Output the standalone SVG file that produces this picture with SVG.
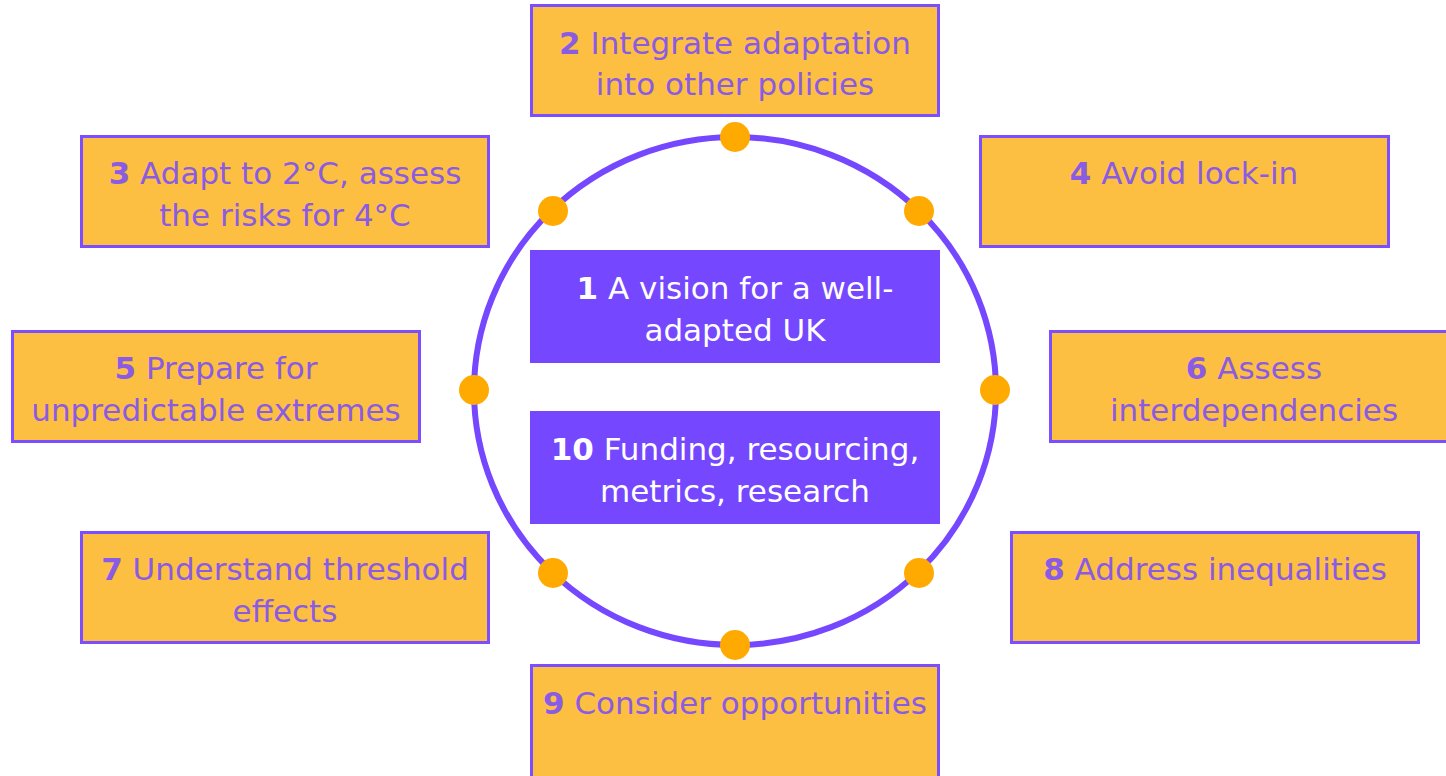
<svg xmlns="http://www.w3.org/2000/svg" width="1446" height="776" viewBox="0 0 1446 776">
  <style>
    .box { fill: #FDBF41; stroke: #7B4FFF; stroke-width: 3; }
    .core { fill: #7547FF; }
    .lbl { font-family: "DejaVu Sans", "Liberation Sans", sans-serif; font-size: 31px; fill: #8A5BE3; text-anchor: middle; }
    .lbl-w { font-family: "DejaVu Sans", "Liberation Sans", sans-serif; font-size: 31px; fill: #FFFFFF; text-anchor: middle; }
    .num { font-weight: bold; }
    .ring { fill: none; stroke: #7548FF; stroke-width: 6; }
    .dot { fill: #FFAA00; }
  </style>

  <!-- ring and its anchor dots -->
  <g id="connectors">
    <ellipse class="ring" cx="735" cy="391" rx="261" ry="254"/>
    <circle class="dot" cx="735" cy="137" r="15"/>
    <circle class="dot" cx="553" cy="211" r="15"/>
    <circle class="dot" cx="919" cy="211" r="15"/>
    <circle class="dot" cx="474" cy="390" r="15"/>
    <circle class="dot" cx="995" cy="390" r="15"/>
    <circle class="dot" cx="553" cy="573" r="15"/>
    <circle class="dot" cx="919" cy="573" r="15"/>
    <circle class="dot" cx="735" cy="645" r="15"/>
  </g>

  <g id="n1">
    <rect class="core" x="530" y="250" width="410" height="113"/>
    <text class="lbl-w" x="735" y="299"><tspan class="num">1</tspan> A vision for a well-</text>
    <text class="lbl-w" x="735" y="341">adapted UK</text>
  </g>

  <g id="n10">
    <rect class="core" x="530" y="411" width="410" height="113"/>
    <text class="lbl-w" x="735" y="460"><tspan class="num">10</tspan> Funding, resourcing,</text>
    <text class="lbl-w" x="735" y="502">metrics, research</text>
  </g>

  <g id="n2">
    <rect class="box" x="531.5" y="5.5" width="407" height="110"/>
    <text class="lbl" x="735" y="54"><tspan class="num">2</tspan> Integrate adaptation</text>
    <text class="lbl" x="735" y="95">into other policies</text>
  </g>

  <g id="n3">
    <rect class="box" x="81.5" y="136.5" width="407" height="110"/>
    <text class="lbl" x="285" y="184"><tspan class="num">3</tspan> Adapt to 2°C, assess</text>
    <text class="lbl" x="285" y="226">the risks for 4°C</text>
  </g>

  <g id="n4">
    <rect class="box" x="980.5" y="136.5" width="408" height="110"/>
    <text class="lbl" x="1184" y="184"><tspan class="num">4</tspan> Avoid lock-in</text>
  </g>

  <g id="n5">
    <rect class="box" x="12.5" y="331.5" width="407" height="110"/>
    <text class="lbl" x="216" y="379"><tspan class="num">5</tspan> Prepare for</text>
    <text class="lbl" x="216" y="421">unpredictable extremes</text>
  </g>

  <g id="n6">
    <rect class="box" x="1050.5" y="331.5" width="407" height="110"/>
    <text class="lbl" x="1254" y="379"><tspan class="num">6</tspan> Assess</text>
    <text class="lbl" x="1254" y="421">interdependencies</text>
  </g>

  <g id="n7">
    <rect class="box" x="81.5" y="532.5" width="407" height="110"/>
    <text class="lbl" x="285" y="580"><tspan class="num">7</tspan> Understand threshold</text>
    <text class="lbl" x="285" y="622">effects</text>
  </g>

  <g id="n8">
    <rect class="box" x="1011.5" y="532.5" width="407" height="110"/>
    <text class="lbl" x="1215" y="580"><tspan class="num">8</tspan> Address inequalities</text>
  </g>

  <g id="n9">
    <rect class="box" x="531.5" y="665.5" width="407" height="120"/>
    <text class="lbl" x="735" y="714"><tspan class="num">9</tspan> Consider opportunities</text>
  </g>
</svg>
